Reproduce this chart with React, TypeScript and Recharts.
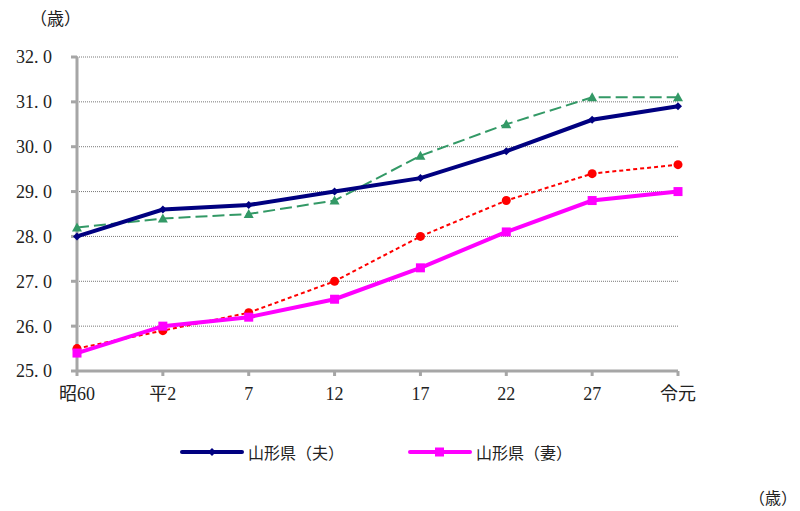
import { LineChart, Line, XAxis, YAxis, CartesianGrid } from 'recharts';

const years = ['昭60', '平2', '7', '12', '17', '22', '27', '令元'];
const yamagataHusband = [28.0, 28.6, 28.7, 29.0, 29.3, 29.9, 30.6, 30.9];
const yamagataWife = [25.4, 26.0, 26.2, 26.6, 27.3, 28.1, 28.8, 29.0];
const nationalHusband = [28.2, 28.4, 28.5, 28.8, 29.8, 30.5, 31.1, 31.1];
const nationalWife = [25.5, 25.9, 26.3, 27.0, 28.0, 28.8, 29.4, 29.6];
const yTicks = [25, 26, 27, 28, 29, 30, 31, 32];

const data = years.map((name, i) => ({
  name,
  yh: yamagataHusband[i],
  yw: yamagataWife[i],
  nh: nationalHusband[i],
  nw: nationalWife[i],
}));

const FONT = '"Liberation Serif", "Noto Sans CJK JP", serif';
const AXIS = '#a6a6a6';

const Diamond = (props: any) => {
  const { cx, cy, fill } = props;
  if (cx == null || cy == null) return null;
  return <path d={`M${cx},${cy - 4}L${cx + 4},${cy}L${cx},${cy + 4}L${cx - 4},${cy}Z`} fill={fill} />;
};

const Square = (props: any) => {
  const { cx, cy, fill } = props;
  if (cx == null || cy == null) return null;
  return <rect x={cx - 4.5} y={cy - 4.5} width={9} height={9} fill={fill} />;
};

const Triangle = (props: any) => {
  const { cx, cy, fill } = props;
  if (cx == null || cy == null) return null;
  return <path d={`M${cx},${cy - 5}L${cx + 5},${cy + 4}L${cx - 5},${cy + 4}Z`} fill={fill} />;
};

const Circle = (props: any) => {
  const { cx, cy, fill } = props;
  if (cx == null || cy == null) return null;
  return <circle cx={cx} cy={cy} r={4.5} fill={fill} />;
};

const legendItems = [
  { label: '山形県（夫）', color: '#000080', x: 180, marker: 'diamond' },
  { label: '山形県（妻）', color: '#ff00ff', x: 408, marker: 'square' },
];

const App = () => {
  return (
    <div style={{ position: 'absolute', left: 0, top: 0, width: 800, height: 511, fontFamily: FONT, background: '#fff', overflow: 'hidden' }}>
      <LineChart width={800} height={511} data={data} margin={{ top: 57, right: 122, left: 0, bottom: 110 }}>
        <CartesianGrid vertical={false} stroke="#555" strokeDasharray="1 1" strokeWidth={0.8} />
        <XAxis
          dataKey="name"
          interval={0}
          stroke={AXIS}
          strokeWidth={3}
          tickSize={5}
          tick={{ fill: '#222', fontSize: 18, fontFamily: FONT, dy: 9 }}
        />
        <YAxis
          width={77}
          domain={[25, 32]}
          ticks={yTicks}
          stroke={AXIS}
          strokeWidth={3}
          tickSize={6}
          tickFormatter={(v: number) => v.toFixed(1).replace('.', '. ')}
          tick={{ fill: '#222', fontSize: 18, fontFamily: FONT, dx: -17 }}
        />
        <Line dataKey="nh" stroke="#339966" strokeWidth={2} strokeDasharray="12 5" dot={<Triangle fill="#339966" />} isAnimationActive={false} />
        <Line dataKey="nw" stroke="#ff0000" strokeWidth={2} strokeDasharray="4 3" dot={<Circle fill="#ff0000" />} isAnimationActive={false} />
        <Line dataKey="yw" stroke="#ff00ff" strokeWidth={4} dot={<Square fill="#ff00ff" />} isAnimationActive={false} />
        <Line dataKey="yh" stroke="#000080" strokeWidth={4} dot={<Diamond fill="#000080" />} isAnimationActive={false} />
      </LineChart>
      <div style={{ position: 'absolute', left: 30, top: 5, fontSize: 17, color: '#222', whiteSpace: 'nowrap' }}>（歳）</div>
      <div style={{ position: 'absolute', left: 749, top: 485, fontSize: 16, color: '#222', whiteSpace: 'nowrap' }}>（歳）</div>
      {legendItems.map((it) => (
        <div key={it.label} style={{ position: 'absolute', left: it.x, top: 441, height: 22, display: 'flex', alignItems: 'center' }}>
          <svg width={64} height={22}>
            <line x1={2} y1={11} x2={62} y2={11} stroke={it.color} strokeWidth={4} strokeLinecap="round" />
            {it.marker === 'diamond' ? (
              <path d="M32,7L36,11L32,15L28,11Z" fill={it.color} />
            ) : (
              <rect x={27} y={6.5} width={9} height={9} fill={it.color} />
            )}
          </svg>
          <span style={{ marginLeft: 4, fontSize: 16, color: '#222', fontFamily: '"Noto Sans CJK JP", sans-serif', whiteSpace: 'nowrap' }}>{it.label}</span>
        </div>
      ))}
    </div>
  );
};

export default App;
